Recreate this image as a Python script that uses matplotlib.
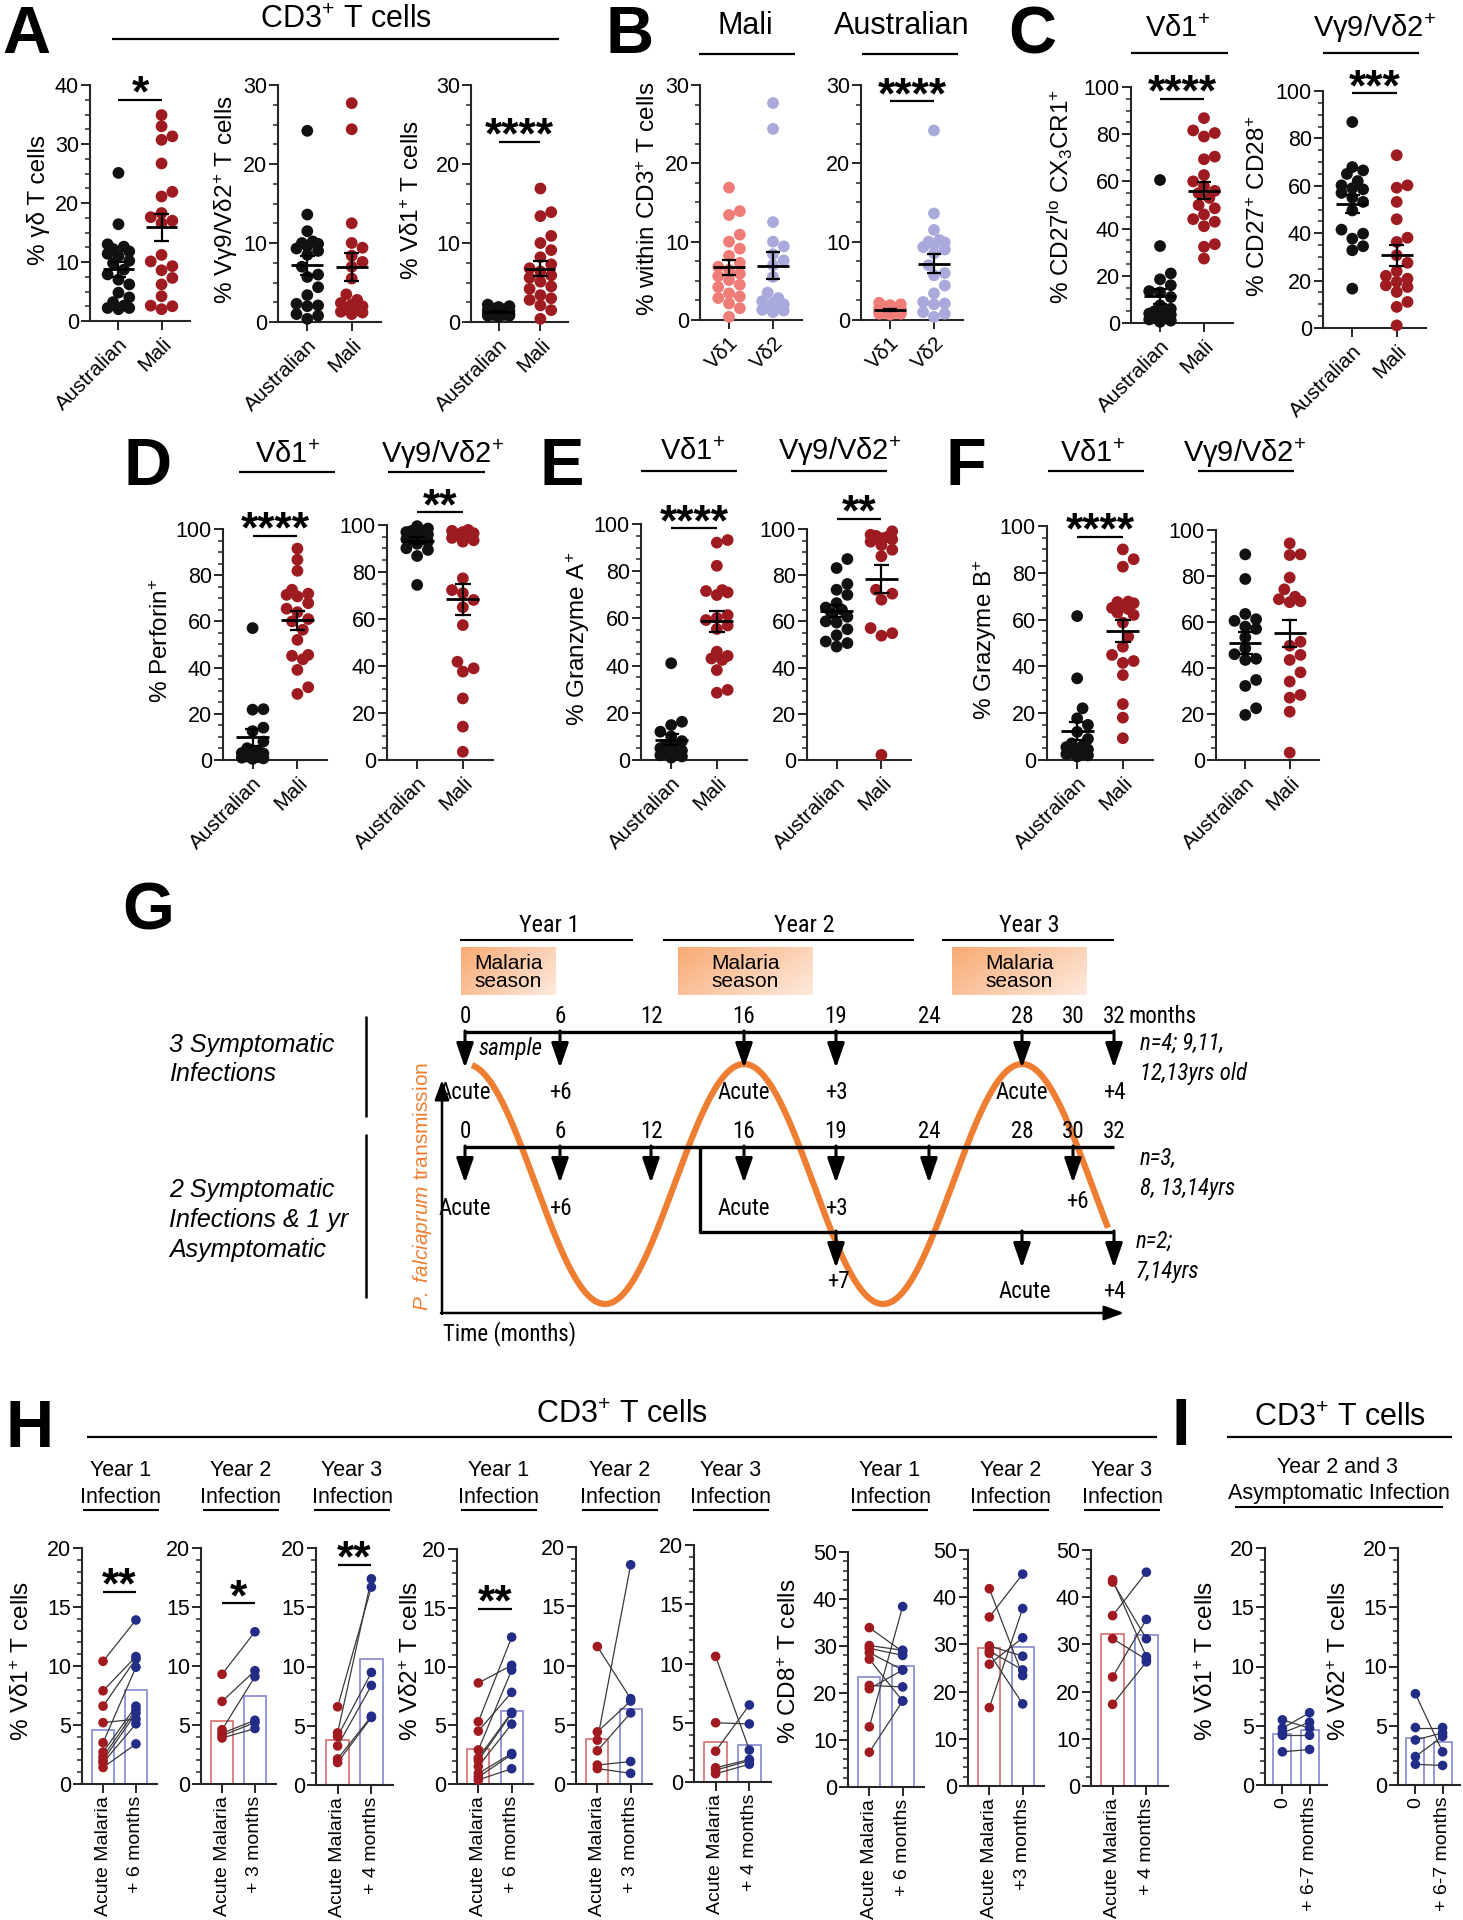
import numpy as np
import matplotlib
matplotlib.use("Agg")
import matplotlib.pyplot as plt
from matplotlib import font_manager
from matplotlib.ticker import MultipleLocator

W, H = 1463, 1920
_names = {f.name for f in font_manager.fontManager.ttflist}
BASE = "Liberation Sans" if "Liberation Sans" in _names else "DejaVu Sans"
NARROW, NS = BASE, 0.85
for _cand, _sc in [("Liberation Sans Narrow", 1.0), ("Arial Narrow", 1.0),
                   ("Nimbus Sans Narrow", 1.0), ("Roboto Condensed", 0.97)]:
    if _cand in _names:
        NARROW, NS = _cand, _sc
        break

plt.rcParams.update({
    "font.family": [BASE, "DejaVu Sans"],
    "mathtext.fontset": "custom",
    "mathtext.rm": BASE,
    "mathtext.it": BASE + ":italic",
    "mathtext.bf": BASE + ":bold",
    "axes.linewidth": 1.5,
    "axes.edgecolor": "#262626",
    "xtick.color": "#262626",
    "ytick.color": "#262626",
    "xtick.labelcolor": "black",
    "ytick.labelcolor": "black",
})

# ------------------------------------------------------------------ data
country = ["Australian", "Mali"]
vd_labels = ["Vδ1", "Vδ2"]

gd_aus = [25.1, 16.4, 13.0, 12.6, 12.2, 11.8, 11.4, 11.0, 10.2, 9.8, 8.7, 7.9, 7.0, 6.2, 4.8, 4.0, 3.2, 2.6, 2.2, 2.0, 2.2]
gd_mali = [34.9, 33.0, 31.3, 30.7, 26.7, 21.9, 21.1, 18.3, 17.6, 17.0, 16.6, 11.2, 10.1, 9.3, 8.6, 7.3, 6.2, 4.2, 2.5, 2.0, 2.6]
vd2_aus = [24.2, 13.6, 11.5, 10.2, 10.0, 9.9, 9.6, 9.3, 9.0, 8.5, 7.0, 5.7, 4.4, 3.4, 2.3, 2.1, 1.0, 0.4, 0.8, 2.0, 6.0]
vd2_mali = [27.7, 24.4, 12.5, 10.0, 9.4, 8.4, 7.6, 7.0, 5.5, 3.5, 2.8, 2.4, 2.0, 1.6, 1.3, 1.2, 1.0, 1.5, 2.2]
vd1_aus = [2.2, 2.0, 1.9, 1.7, 1.5, 1.4, 1.3, 1.2, 1.1, 1.0, 1.0, 0.9, 0.8, 0.8, 0.7, 1.6, 1.2, 0.9]
vd1_mali = [16.9, 13.9, 13.4, 10.9, 10.0, 9.1, 8.2, 7.3, 6.8, 6.4, 5.9, 5.6, 5.1, 4.2, 3.4, 2.1, 0.4, 2.8, 4.5, 3.0, 1.5]

cx3_aus = [60.6, 32.6, 21.0, 18.5, 16.0, 13.5, 13.0, 11.0, 7.5, 6.0, 5.0, 4.0, 3.5, 3.0, 2.0, 1.5, 1.0, 0.5, 4.5, 2.5]
cx3_mali = [86.8, 81.6, 80.5, 79.0, 70.5, 69.4, 62.7, 60.0, 58.0, 56.0, 55.0, 53.0, 50.0, 48.6, 46.0, 42.9, 41.0, 33.4, 32.3, 27.3, 44.0]
cd28_aus = [86.9, 67.9, 66.5, 65.0, 60.2, 59.0, 57.0, 55.0, 53.2, 49.6, 41.5, 39.8, 37.7, 34.5, 32.8, 16.6, 62.0, 58.5]
cd28_mali = [72.9, 60.2, 59.2, 53.2, 45.9, 38.1, 36.3, 30.7, 27.5, 24.0, 20.8, 19.5, 17.3, 15.2, 11.0, 8.9, 1.1, 22.0, 18.0]

perf_vd1_aus = [57.1, 22.0, 21.8, 14.0, 12.5, 8.0, 5.1, 4.0, 3.0, 2.2, 1.5, 1.0, 0.7, 0.5, 1.2, 2.8]
perf_vd1_mali = [91.5, 86.7, 81.9, 73.7, 72.0, 71.5, 70.8, 67.9, 65.5, 64.0, 60.0, 56.4, 52.0, 45.1, 45.5, 43.6, 39.0, 31.5, 28.6, 61.0]
perf_vd2_aus = [99.5, 98.5, 97.5, 97.0, 96.5, 96.0, 95.5, 95.0, 94.0, 93.0, 92.0, 90.1, 89.4, 86.8, 74.5, 97.0]
perf_vd2_mali = [97.9, 97.5, 97.0, 96.5, 96.0, 95.5, 94.5, 93.5, 92.9, 77.3, 72.3, 71.0, 68.1, 65.0, 57.4, 41.8, 39.0, 37.6, 26.2, 14.2, 3.5]

gza_vd1_aus = [41.0, 16.2, 14.8, 12.0, 10.0, 8.0, 6.4, 5.0, 4.0, 3.0, 2.8, 2.0, 1.5, 1.0, 4.5, 6.0]
gza_vd1_mali = [93.2, 92.1, 82.3, 72.0, 71.6, 71.0, 69.9, 61.4, 60.2, 59.3, 57.0, 55.5, 45.9, 44.1, 43.0, 42.4, 38.1, 29.7, 28.5]
gza_vd2_aus = [87.0, 83.1, 76.2, 73.7, 71.5, 67.9, 66.0, 63.6, 62.0, 60.0, 56.6, 54.0, 51.3, 50.6, 49.1, 59.5, 65.0]
gza_vd2_mali = [99.0, 97.5, 97.0, 96.5, 96.0, 95.5, 94.5, 93.0, 91.0, 88.2, 73.7, 72.0, 69.4, 57.1, 54.9, 53.8, 2.2]

gzb_vd1_aus = [61.5, 34.9, 22.1, 17.8, 15.0, 12.0, 9.0, 7.1, 5.5, 4.5, 3.5, 2.8, 2.5, 2.0, 1.5, 6.0, 3.0]
gzb_vd1_mali = [90.0, 85.8, 82.6, 67.7, 67.5, 67.0, 66.0, 63.0, 64.5, 58.7, 52.7, 48.4, 44.9, 42.3, 41.5, 36.3, 23.9, 18.1, 9.3, 62.0, 65.0]
gzb_vd2_aus = [89.4, 78.7, 63.5, 61.2, 60.5, 58.0, 57.0, 53.3, 48.6, 46.0, 43.5, 34.8, 32.2, 22.5, 19.6, 44.0]
gzb_vd2_mali = [94.2, 89.4, 89.1, 79.3, 74.2, 71.0, 69.9, 69.0, 68.6, 51.4, 49.7, 45.7, 43.5, 38.1, 34.1, 28.3, 27.1, 21.0, 3.2]

# paired longitudinal data (H, I)
vd1_y1_acute = [10.4, 7.9, 6.6, 5.2, 3.5, 2.7, 2.3, 2.0, 1.8, 1.4]
vd1_y1_post = [13.9, 10.8, 10.6, 5.5, 9.9, 6.6, 6.3, 6.0, 5.1, 3.4]
vd1_y1_bars = [4.6, 8.0]
vd1_y2_acute = [9.3, 7.0, 4.6, 4.3, 4.1, 3.9]
vd1_y2_post = [12.9, 9.6, 9.1, 5.4, 5.2, 4.7]
vd1_y2_bars = [5.3, 7.5]
vd1_y3_acute = [6.6, 4.4, 4.1, 3.3, 2.2, 1.9]
vd1_y3_post = [16.7, 17.4, 9.5, 8.4, 5.8, 5.7]
vd1_y3_bars = [3.8, 10.6]
vd2_y1_acute = [8.6, 5.3, 4.5, 2.9, 2.2, 2.0, 1.5, 0.9, 0.6, 0.35]
vd2_y1_post = [10.1, 12.5, 7.8, 9.7, 6.1, 6.0, 5.1, 2.6, 2.5, 1.3]
vd2_y1_bars = [3.0, 6.2]
vd2_y2_acute = [11.6, 4.4, 3.7, 2.8, 1.6, 1.3]
vd2_y2_post = [7.2, 7.0, 18.5, 6.0, 1.9, 0.9]
vd2_y2_bars = [3.8, 6.3]
vd2_y3_acute = [10.6, 5.0, 2.6, 1.2, 1.0, 0.7]
vd2_y3_post = [2.7, 4.9, 6.5, 1.9, 1.8, 1.5]
vd2_y3_bars = [3.4, 3.1]
cd8_y1_acute = [33.9, 30.1, 29.5, 28.6, 27.2, 21.6, 20.9, 12.8, 7.4]
cd8_y1_post = [28.8, 29.1, 28.0, 24.9, 18.3, 21.3, 24.9, 38.4, 18.3]
cd8_y1_bars = [23.5, 25.8]
cd8_y2_acute = [41.8, 35.8, 29.7, 28.6, 28.1, 25.8, 16.6]
cd8_y2_post = [23.4, 44.9, 27.5, 24.6, 17.4, 31.4, 37.6]
cd8_y2_bars = [29.2, 29.5]
cd8_y3_acute = [43.7, 43.2, 36.1, 31.2, 23.1, 17.3]
cd8_y3_post = [27.4, 31.2, 45.3, 26.8, 35.3, 26.3]
cd8_y3_bars = [32.2, 31.9]
asym_vd1_0 = [5.5, 4.8, 4.4, 4.2, 2.8]
asym_vd1_post = [4.8, 6.1, 5.3, 4.2, 3.0]
asym_vd1_bars = [4.3, 4.65]
asym_vd2_0 = [7.7, 4.85, 3.8, 2.4, 1.75]
asym_vd2_post = [2.8, 4.85, 4.4, 4.1, 1.65]
asym_vd2_bars = [4.0, 3.6]

lab_y1 = ["Acute Malaria", "+ 6 months"]
lab_y2 = ["Acute Malaria", "+ 3 months"]
lab_y2b = ["Acute Malaria", "+3 months"]
lab_y3 = ["Acute Malaria", "+ 4 months"]
lab_asym = ["0", "+ 6-7 months"]

# schematic (G)
g_months = [0, 6, 12, 16, 19, 24, 28, 30, 32]
g_row1 = [(0, "Acute"), (6, "+6"), (16, "Acute"), (19, "+3"), (28, "Acute"), (32, "+4")]
g_row2_arrows = [0, 6, 12, 16, 19, 24, 30]
g_row2_text = [(0, "Acute"), (6, "+6"), (16, "Acute"), (19, "+3")]
g_row3 = [(19, "+7"), (28, "Acute"), (32, "+4")]

# ------------------------------------------------------------------ style
BLK = "#111111"
MALI = "#9E1C21"
SALMON = "#F07C78"
LAV = "#A9AADB"
RED = "#A11A20"
NAVY = "#232C87"
BAR_RED = "#D9777A"
BAR_BLUE = "#8C91D3"
ORANGE = "#EE7E32"

fig = plt.figure(figsize=(W / 100, H / 100), dpi=100)
fig.patch.set_facecolor("white")
ov = fig.add_axes([0, 0, 1, 1], zorder=5)
ov.set_xlim(0, W)
ov.set_ylim(H, 0)
ov.axis("off")


def T(x, y, s, size, ha="center", va="baseline", family=None, style="normal",
      weight="normal", color="black", rot=0, z=6):
    kw = {"family": family} if family else {}
    return ov.text(x, y, s, fontsize=size, ha=ha, va=va, fontstyle=style,
                   fontweight=weight, color=color, rotation=rot, zorder=z, **kw)


def L(x0, y0, x1, y1, lw=1.6, color="black", z=5):
    ov.plot([x0, x1], [y0, y1], color=color, lw=lw, solid_capstyle="butt", zorder=z)


def add_ax(box):
    x0, y0, x1, y1 = box
    ax = fig.add_axes([x0 / W, 1 - y1 / H, (x1 - x0) / W, (y1 - y0) / H])
    ax.patch.set_alpha(0)
    for s in ("top", "right"):
        ax.spines[s].set_visible(False)
    return ax


def style_y(ax, ylim, major, minor):
    ax.set_ylim(*ylim)
    ax.yaxis.set_major_locator(MultipleLocator(major))
    ax.yaxis.set_minor_locator(MultipleLocator(minor))
    ax.tick_params(axis="y", which="major", length=6.5, width=1.4, labelsize=15.5, pad=1.5)
    ax.tick_params(axis="y", which="minor", length=3.5, width=1.1)
    ax.tick_params(axis="x", which="major", length=6.5, width=1.4)
    ax.tick_params(axis="x", which="minor", bottom=False)


def swarm(ypx, d, maxoff):
    xs = np.zeros(len(ypx))
    placed = []
    step = d * 0.45
    cands = [0.0]
    for k in range(1, 10):
        cands += [k * step, -k * step]
    for i in np.argsort(ypx):
        y = ypx[i]
        best, bestc, bestscore = None, 0.0, -1
        for c in cands:
            if abs(c) > maxoff:
                continue
            if not placed:
                best = c
                break
            dmin = min(np.hypot(c - px, y - py) for px, py in placed)
            if dmin >= d * 0.9:
                best = c
                break
            if dmin > bestscore:
                bestscore, bestc = dmin, c
        if best is None:
            best = bestc
        xs[i] = best
        placed.append((best, y))
    return xs


def add_sig(ax, y, stars):
    ax.plot([0, 1], [y, y], color="black", lw=1.6, clip_on=False, solid_capstyle="butt")
    ax.annotate(stars, xy=(0.5, y), xytext=(0, -5), textcoords="offset points",
                ha="center", va="baseline", fontsize=32, fontweight="bold",
                annotation_clip=False)


def scatter_panel(box, series, colors, ylim, major, minor, xlabels, sig=None):
    ax = add_ax(box)
    style_y(ax, ylim, major, minor)
    xl = (-0.66, 1.66)
    ax.set_xlim(*xl)
    ppx = (box[2] - box[0]) / (xl[1] - xl[0])
    ppy = (box[3] - box[1]) / (ylim[1] - ylim[0])
    for i, (vals, col) in enumerate(zip(series, colors)):
        v = np.asarray(vals, float)
        off = swarm(v * ppy, 12.0, 15.0) / ppx
        ax.scatter(i + off, v, s=72, color=col, edgecolors="none", zorder=3, clip_on=False)
        m = v.mean()
        se = v.std(ddof=1) / np.sqrt(len(v))
        ax.plot([i - 0.36, i + 0.36], [m, m], color="black", lw=2.0, zorder=4, solid_capstyle="butt")
        ax.plot([i, i], [m - se, m + se], color="black", lw=1.6, zorder=4)
        for yy in (m - se, m + se):
            ax.plot([i - 0.17, i + 0.17], [yy, yy], color="black", lw=1.6, zorder=4,
                    solid_capstyle="butt")
    ax.set_xticks([0, 1])
    ax.set_xticklabels(xlabels, rotation=45, ha="right", rotation_mode="anchor", fontsize=15)
    ax.tick_params(axis="x", pad=3)
    if sig:
        add_sig(ax, *sig)
    return ax


def paired_panel(box, before, after, bars, edgecols, dotcols, ylim, major, minor, xlabels, sig=None):
    ax = add_ax(box)
    style_y(ax, ylim, major, minor)
    ax.set_xlim(-0.64, 1.64)
    ax.bar([0, 1], bars, width=0.66, color="white", edgecolor=edgecols, linewidth=1.3, zorder=1)
    for b, a in zip(before, after):
        ax.plot([0, 1], [b, a], color="#3a3a3a", lw=0.9, zorder=2)
    ax.scatter(np.zeros(len(before)), before, s=48, color=dotcols[0], edgecolors="none",
               zorder=3, clip_on=False)
    ax.scatter(np.ones(len(after)), after, s=48, color=dotcols[1], edgecolors="none",
               zorder=3, clip_on=False)
    ax.set_xticks([0, 1])
    ax.set_xticklabels(xlabels, rotation=90, ha="center", va="top", fontsize=14)
    ax.tick_params(axis="x", pad=2)
    if sig:
        add_sig(ax, *sig)
    return ax


# ------------------------------------------------------------------ panels A-F
scatter_panel((90, 85, 190, 321), [gd_aus, gd_mali], [BLK, MALI], (0, 40), 10, 2.5, country, (37.5, "*"))
scatter_panel((278, 85, 381, 322), [vd2_aus, vd2_mali], [BLK, MALI], (0, 30), 10, 2.5, country)
scatter_panel((471, 85, 568, 322), [vd1_aus, vd1_mali], [BLK, MALI], (0, 30), 10, 2.5, country, (22.8, "****"))
scatter_panel((700, 85, 802, 320), [vd1_mali, vd2_mali], [SALMON, LAV], (0, 30), 10, 2.5, vd_labels)
scatter_panel((861, 85, 963, 320), [vd1_aus, vd2_aus], [SALMON, LAV], (0, 30), 10, 2.5, vd_labels, (27.9, "****"))
scatter_panel((1131, 87, 1233, 323), [cx3_aus, cx3_mali], [BLK, MALI], (0, 100), 20, 5, country, (95, "****"))
scatter_panel((1323, 91, 1426, 328), [cd28_aus, cd28_mali], [BLK, MALI], (0, 100), 20, 5, country, (99, "***"))
scatter_panel((223, 529, 327, 760), [perf_vd1_aus, perf_vd1_mali], [BLK, MALI], (0, 100), 20, 5, country, (97, "****"))
scatter_panel((387, 525, 493, 760), [perf_vd2_aus, perf_vd2_mali], [BLK, MALI], (0, 100), 20, 5, country, (105.4, "**"))
scatter_panel((641, 524, 747, 760), [gza_vd1_aus, gza_vd1_mali], [BLK, MALI], (0, 100), 20, 5, country, (98.2, "****"))
scatter_panel((807, 529, 911, 760), [gza_vd2_aus, gza_vd2_mali], [BLK, MALI], (0, 100), 20, 5, country, (104.5, "**"))
scatter_panel((1047, 526, 1153, 760), [gzb_vd1_aus, gzb_vd1_mali], [BLK, MALI], (0, 100), 20, 5, country, (95.4, "****"))
scatter_panel((1216, 530, 1319, 760), [gzb_vd2_aus, gzb_vd2_mali], [BLK, MALI], (0, 100), 20, 5, country)

# ------------------------------------------------------------------ panels H, I
paired_panel((82, 1548, 157, 1784), vd1_y1_acute, vd1_y1_post, vd1_y1_bars, [BAR_BLUE, BAR_BLUE], [RED, NAVY], (0, 20), 5, 1, lab_y1, (16.3, "**"))
paired_panel((201, 1548, 276, 1784), vd1_y2_acute, vd1_y2_post, vd1_y2_bars, [BAR_RED, BAR_BLUE], [RED, NAVY], (0, 20), 5, 1, lab_y2, (15.3, "*"))
paired_panel((316, 1548, 393, 1785), vd1_y3_acute, vd1_y3_post, vd1_y3_bars, [BAR_RED, BAR_BLUE], [RED, NAVY], (0, 20), 5, 1, lab_y3, (18.6, "**"))
paired_panel((457, 1549, 533, 1784), vd2_y1_acute, vd2_y1_post, vd2_y1_bars, [BAR_RED, BAR_BLUE], [RED, NAVY], (0, 20), 5, 1, lab_y1, (14.9, "**"))
paired_panel((576, 1547, 652, 1784), vd2_y2_acute, vd2_y2_post, vd2_y2_bars, [BAR_RED, BAR_BLUE], [RED, NAVY], (0, 20), 5, 1, lab_y2)
paired_panel((694, 1545, 771, 1782), vd2_y3_acute, vd2_y3_post, vd2_y3_bars, [BAR_RED, BAR_BLUE], [RED, NAVY], (0, 20), 5, 1, lab_y3)
paired_panel((848, 1552, 924, 1787), cd8_y1_acute, cd8_y1_post, cd8_y1_bars, [BAR_BLUE, BAR_BLUE], [RED, NAVY], (0, 50), 10, 2, lab_y1)
paired_panel((968, 1550, 1044, 1786), cd8_y2_acute, cd8_y2_post, cd8_y2_bars, [BAR_RED, BAR_BLUE], [RED, NAVY], (0, 50), 10, 2, lab_y2b)
paired_panel((1091, 1550, 1168, 1786), cd8_y3_acute, cd8_y3_post, cd8_y3_bars, [BAR_RED, BAR_BLUE], [RED, NAVY], (0, 50), 10, 2, lab_y3)
paired_panel((1265, 1548, 1327, 1785), asym_vd1_0, asym_vd1_post, asym_vd1_bars, [BAR_BLUE, BAR_BLUE], [NAVY, NAVY], (0, 20), 5, 1, lab_asym)
paired_panel((1398, 1548, 1460, 1785), asym_vd2_0, asym_vd2_post, asym_vd2_bars, [BAR_BLUE, BAR_BLUE], [NAVY, NAVY], (0, 20), 5, 1, lab_asym)

# ------------------------------------------------------------------ letters, titles, y labels
for x, y, s in [(2, 53, "A"), (605, 53, "B"), (1008, 53, "C"), (123, 485, "D"), (540, 485, "E"),
                (946, 485, "F"), (122, 930, "G"), (5, 1447, "H"), (1171, 1445, "I")]:
    T(x, y, s, 48, ha="left", weight="bold")

VD1 = "Vδ1$^{+}$"
VG9 = "Vγ9/Vδ2$^{+}$"
T(346, 28, "CD3$^{+}$ T cells", 22); L(112, 39, 559, 39)
T(745, 34, "Mali", 22); L(699, 54, 795, 54)
T(902, 34, "Australian", 22); L(862, 54, 958, 54)
T(1177, 37, VD1, 21); L(1131, 53, 1228, 53)
T(1375, 37, VG9, 21); L(1323, 53, 1419, 53)
for (c1, c2, base) in [(287, 443, 463), (692, 840, 460), (1092, 1245, 462)]:
    T(c1, base, VD1, 21)
    T(c2, base, VG9, 21)
L(239, 472, 335, 472); L(388, 472, 485, 472)
L(641, 471, 737, 471); L(791, 471, 887, 471)
L(1048, 471, 1144, 471); L(1198, 471, 1294, 471)

for x, y, s in [(38, 200, "% γδ T cells"), (226, 200, "% Vγ9/Vδ2$^{+}$ T cells"),
                (413, 200, "% Vδ1$^{+}$ T cells"), (649, 199, "% within CD3$^{+}$ T cells"),
                (1060, 197, r"% CD27$^{\mathrm{lo}}$ CX$_{3}$CR1$^{+}$"),
                (1259, 206, "% CD27$^{+}$ CD28$^{+}$"), (162, 641, "% Perforin$^{+}$"),
                (578, 639, "% Granzyme A$^{+}$"), (985, 640, "% Grazyme B$^{+}$"),
                (23, 1661, "% Vδ1$^{+}$ T cells"), (412, 1661, "% Vδ2$^{+}$ T cells"),
                (790, 1661, "% CD8$^{+}$ T cells"), (1207, 1661, "% Vδ1$^{+}$ T cells"),
                (1340, 1661, "% Vδ2$^{+}$ T cells")]:
    T(x, y, s, 17.5, ha="center", va="center", rot=90)

T(622, 1423, "CD3$^{+}$ T cells", 22); L(87, 1437, 1157, 1437)
for i, c in enumerate([121, 241, 352, 499, 620, 731, 890, 1011, 1122]):
    T(c, 1476, "Year %d" % (i % 3 + 1), 15.5)
    T(c, 1503, "Infection", 15.5)
    L(c - 38, 1510, c + 38, 1510, lw=1.5)
T(1340, 1426, "CD3$^{+}$ T cells", 22); L(1227, 1437, 1452, 1437)
T(1337, 1473, "Year 2 and 3", 15.5)
T(1339, 1499, "Asymptomatic Infection", 15.5)
L(1235, 1507, 1443, 1507, lw=1.5)

# ------------------------------------------------------------------ panel G schematic
GX = {0: 465, 6: 560, 12: 651, 16: 744, 19: 836, 24: 929, 28: 1022, 30: 1073, 32: 1114}
NF = 17 * NS

for (c, l0, l1, lab) in [(549, 460, 633, "Year 1"), (804, 663, 914, "Year 2"), (1029, 942, 1114, "Year 3")]:
    T(c, 932, lab, 18 * NS, family=NARROW)
    L(l0, 940, l1, 940, lw=1.5)

gu, gv = np.meshgrid(np.linspace(0, 1, 80), np.linspace(0, 1, 40))
gt = np.clip(0.65 * gu + 0.35 * gv, 0, 1)[..., None]
c0 = np.array([248, 170, 115]) / 255.0
c1 = np.array([254, 234, 222]) / 255.0
grad = c0 * (1 - gt) + c1 * gt
for (x0, x1) in [(461, 556), (678, 813), (952, 1087)]:
    ov.imshow(grad, extent=(x0, x1, 995, 947), aspect="auto", zorder=2, interpolation="bilinear")
    T((x0 + x1) / 2, 969, "Malaria", 15)
    T((x0 + x1) / 2, 987, "season", 15)

for m in g_months:
    T(GX[m], 1023, str(m), NF, family=NARROW)
    T(GX[m], 1138, str(m), NF, family=NARROW)
T(1128, 1023, "months", NF, ha="left", family=NARROW)

AP = dict(arrowstyle="-|>,head_length=0.75,head_width=0.26", color="black", lw=2.2,
          shrinkA=0, shrinkB=0, mutation_scale=20)


def down(x, y0, y1):
    ov.annotate("", xy=(x, y1), xytext=(x, y0), arrowprops=AP, zorder=5)


L(GX[0], 1032, GX[32], 1032, lw=2.4)
for m, lab in g_row1:
    down(GX[m], 1031, 1068)
    T(GX[m], 1099, lab, NF, family=NARROW)
T(511, 1055, "sample", NF, family=NARROW, style="italic")

L(GX[0], 1147, GX[32], 1147, lw=2.4)
for m in g_row2_arrows:
    down(GX[m], 1146, 1183)
for m, lab in g_row2_text:
    T(GX[m], 1215, lab, NF, family=NARROW)
T(GX[30] + 4, 1208, "+6", NF, family=NARROW)

L(700, 1147, 700, 1233, lw=2.4)
L(699, 1232, GX[32], 1232, lw=2.4)
for m, lab in g_row3:
    down(GX[m], 1231, 1268)
T(GX[19] + 2, 1288, "+7", NF, family=NARROW)
T(GX[28] + 3, 1298, "Acute", NF, family=NARROW)
T(GX[32], 1298, "+4", NF, family=NARROW)

sx = np.linspace(472, 1108, 500)
sy = 1184 - 120 * np.cos(2 * np.pi * (sx - 466) / 278)
ov.plot(sx, sy, color=ORANGE, lw=4.5, solid_capstyle="butt", zorder=4)

AX = dict(arrowstyle="-|>,head_length=0.6,head_width=0.22", color="black", lw=1.8,
          shrinkA=0, shrinkB=0, mutation_scale=20)
ov.annotate("", xy=(442, 1080), xytext=(442, 1314), arrowprops=AX, zorder=5)
ov.annotate("", xy=(1124, 1313), xytext=(441, 1313), arrowprops=AX, zorder=5)
T(422, 1186, r"$\mathit{P.\ falciaprum}$ transmission", 15, va="center", rot=90, color=ORANGE)
T(443, 1340, "Time (months)", NF, ha="left", family=NARROW)

L(366, 1016, 366, 1117, lw=1.8)
L(366, 1134, 366, 1298, lw=1.8)
for y, s in [(1052, "3 Symptomatic"), (1081, "Infections"), (1197, "2 Symptomatic"),
             (1227, "Infections & 1 yr"), (1257, "Asymptomatic")]:
    T(169, y, s, 18, ha="left", style="italic")
for x, y, s in [(1140, 1050, "n=4; 9,11,"), (1140, 1080, "12,13yrs old"), (1140, 1165, "n=3,"),
                (1140, 1195, "8, 13,14yrs"), (1136, 1248, "n=2;"), (1136, 1278, "7,14yrs")]:
    T(x, y, s, NF, ha="left", family=NARROW, style="italic")

ov.set_xlim(0, W)
ov.set_ylim(H, 0)
fig.savefig("out.png", dpi=100)
